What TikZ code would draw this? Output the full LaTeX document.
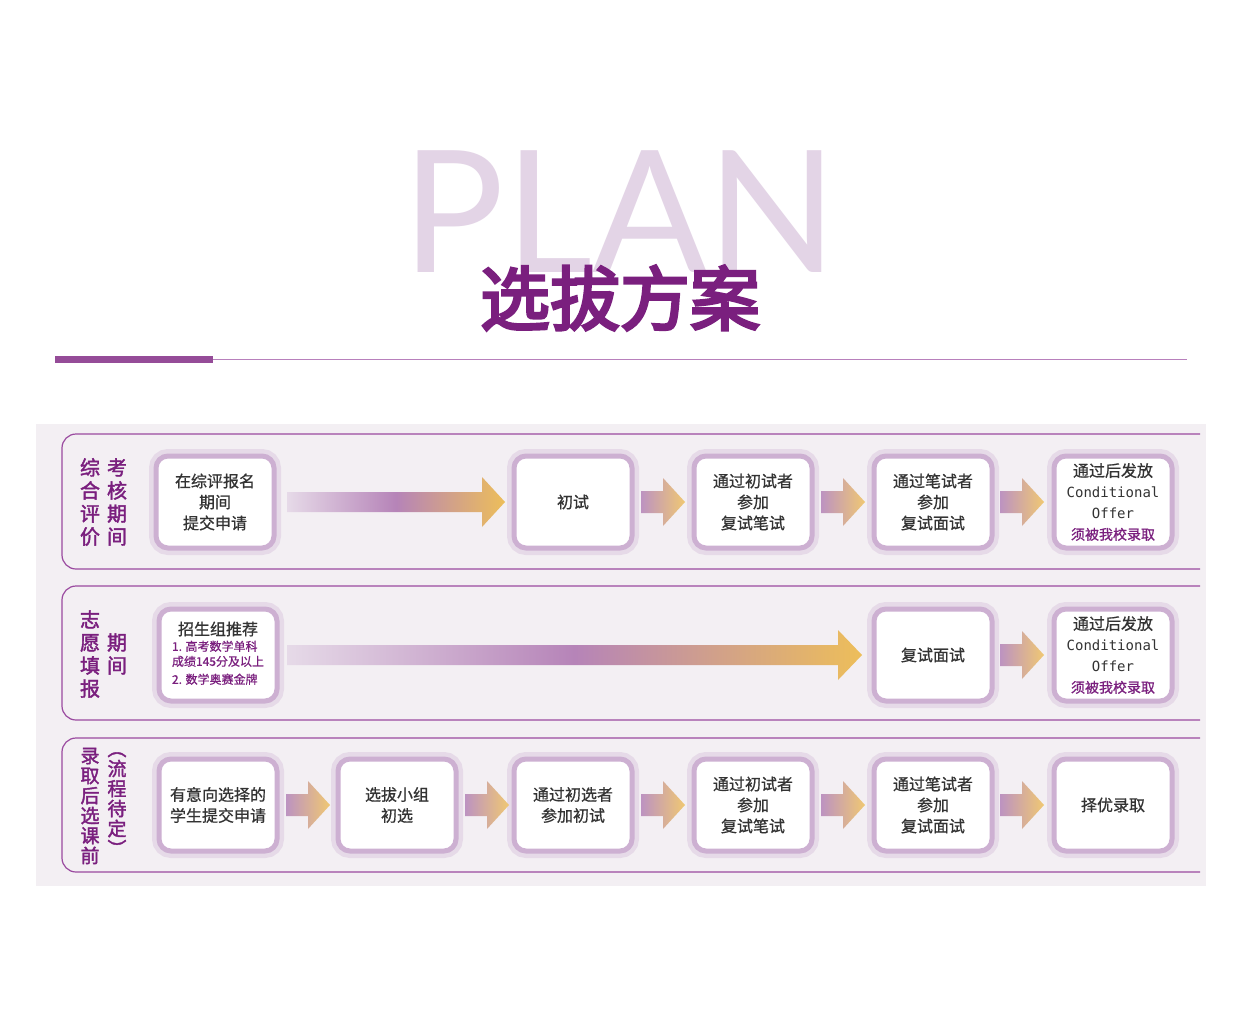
\documentclass[tikz,border=0pt]{standalone}
\usepackage{fontspec}
\setmainfont{Noto Sans CJK SC}
\newfontfamily\cjkb{Noto Sans CJK SC}[FakeBold=2]
\newfontfamily\cjkm{Noto Sans CJK SC}[FakeBold=0.8]
\newfontfamily\cjkh{Noto Sans CJK SC}[FakeBold=4]
\newfontfamily\planfont{Lato}
\newfontfamily\monof{DejaVu Sans Mono}
\definecolor{pp}{HTML}{7A1F7E}
\definecolor{lav}{HTML}{CDB0D2}
\definecolor{halo}{HTML}{E6DAE8}
\definecolor{bgc}{HTML}{F3EFF3}
\definecolor{frm}{HTML}{9A4AA0}
\definecolor{gold}{HTML}{EDBE5A}
\definecolor{txt}{HTML}{333333}
\begin{document}
\begin{tikzpicture}[x=1pt,y=-1pt,
 box/.style={draw=lav,line width=5pt,fill=white,rounded corners=12pt,minimum width=118pt,minimum height=92pt,align=center,font=\fontsize{16}{21}\selectfont\cjkm,text=txt,
   preaction={draw=halo,line width=14pt,rounded corners=16pt}},
 sarr/.style={draw=none,left color=lav!80!pp,right color=gold!85},
 larr/.style={draw=none,left color=halo,right color=gold,middle color=pp!55},
 lab/.style={text=pp,font=\fontsize{20}{23}\selectfont\cjkb,align=center},
 frame/.style={draw=frm,line width=1.2pt,rounded corners=14pt}]
\useasboundingbox (0,0) rectangle (1242,1030);
\fill[white] (0,0) rectangle (1242,1030);
% title
\node[text=lav!55,font=\fontsize{170}{170}\selectfont\planfont,inner sep=0] (plan) at (620,212) {PLAN};
\node[text=pp,font=\fontsize{70}{70}\selectfont\cjkh,inner sep=0] (title) at (620,298) {选拔方案};
\fill[pp!80] (55,355.5) rectangle (213,362.5);
\draw[frm!70,line width=0.8pt] (213,359) -- (1187,359);
% background
\fill[bgc] (36,424) rectangle (1206,886);
% frames
\draw[frame] (1200,434) -- (62,434) -- (62,569) -- (1200,569);
\draw[frame] (1200,586) -- (62,586) -- (62,720) -- (1200,720);
\draw[frame] (1200,738) -- (62,738) -- (62,872) -- (1200,872);
% left labels
\node[lab] (l1a) at (90,502) {综\\合\\评\\价};
\node[lab] (l1b) at (117,502) {考\\核\\期\\间};
\node[lab] (l2a) at (90,654) {志\\愿\\填\\报};
\node[lab] (l2b) at (117,654) {期\\间};
\node[lab,font=\fontsize{19}{20}\selectfont\cjkb] (l3a) at (90,806) {录\\取\\后\\选\\课\\前};
\node[lab,font=\fontsize{19}{20}\selectfont\cjkb] (l3b) at (117,804) {︵\\流\\程\\待\\定\\︶};
% row 1
\node[box] (a1) at (215,502) {在综评报名\\期间\\提交申请};
\node[box] (a2) at (573,502) {初试};
\node[box] (a3) at (753,502) {通过初试者\\参加\\复试笔试};
\node[box] (a4) at (933,502) {通过笔试者\\参加\\复试面试};
\node[box] (a5) at (1113,502) {通过后发放\\{\monof\fontsize{14}{20}\selectfont Conditional}\\{\monof\fontsize{14}{20}\selectfont Offer}\\{\color{pp}\fontsize{14}{23}\selectfont 须被我校录取}};
% row 2
\node[box] (b1) at (218,655) {招生组推荐\\[3pt]{\color{pp}\fontsize{12}{15}\selectfont\begin{tabular}{@{}l@{}}1. 高考数学单科\\成绩145分及以上\\[3pt]2. 数学奥赛金牌\end{tabular}}};
\node[box] (b2) at (933,655) {复试面试};
\node[box] (b3) at (1113,655) {通过后发放\\{\monof\fontsize{14}{20}\selectfont Conditional}\\{\monof\fontsize{14}{20}\selectfont Offer}\\{\color{pp}\fontsize{14}{23}\selectfont 须被我校录取}};
% row 3
\node[box] (c1) at (218,805) {有意向选择的\\学生提交申请};
\node[box] (c2) at (397,805) {选拔小组\\初选};
\node[box] (c3) at (573,805) {通过初选者\\参加初试};
\node[box] (c4) at (753,805) {通过初试者\\参加\\复试笔试};
\node[box] (c5) at (933,805) {通过笔试者\\参加\\复试面试};
\node[box] (c6) at (1113,805) {择优录取};
% long arrows
\path[larr] (287,492) -- (482,492) -- (482,477) -- (505,502) -- (482,527) -- (482,512) -- (287,512) -- cycle;
\path[larr] (287,645) -- (838,645) -- (838,630) -- (862,655) -- (838,680) -- (838,665) -- (287,665) -- cycle;
% small arrows
\foreach \x/\y in {663/502,843/502,1022/502,1022/655,308/805,487/805,663/805,843/805,1022/805}
  \path[sarr] (\x-22,\y-11) -- (\x,\y-11) -- (\x,\y-24) -- (\x+22,\y) -- (\x,\y+24) -- (\x,\y+11) -- (\x-22,\y+11) -- cycle;
\end{tikzpicture}
\end{document}
